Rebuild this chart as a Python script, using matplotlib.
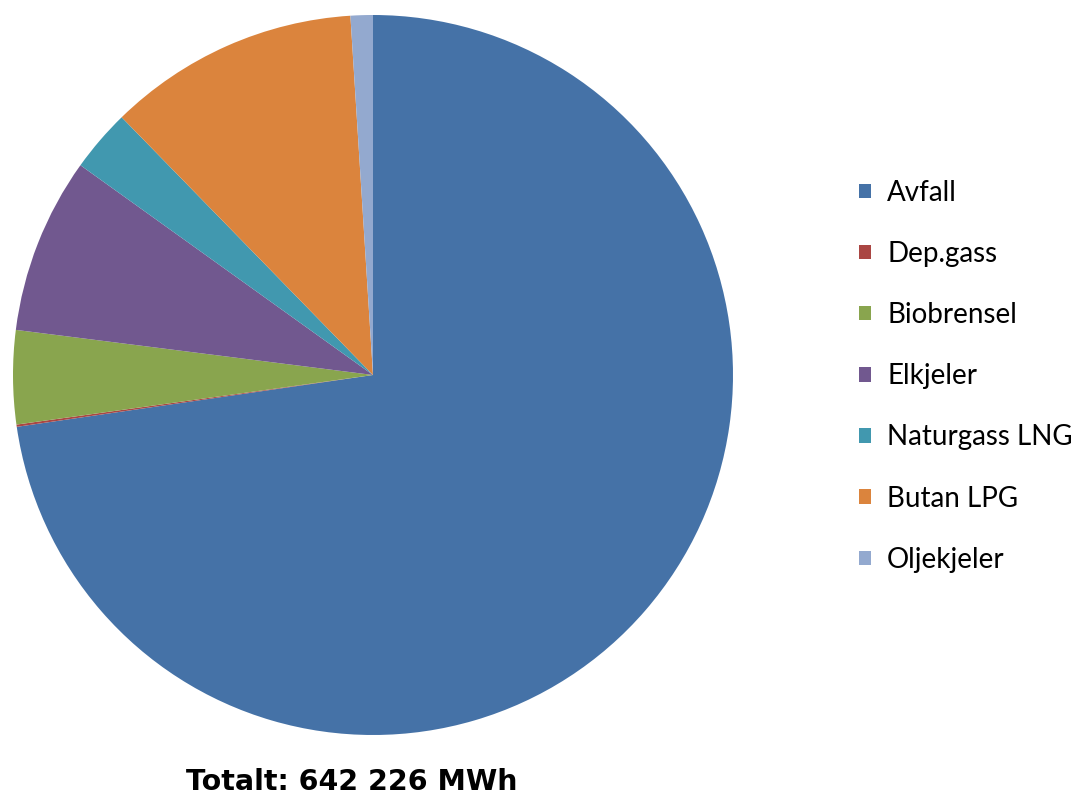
import matplotlib.pyplot as plt
from matplotlib.patches import Patch

# Energy mix for the district heating plant, share of total delivered heat (%)
sources = ["Avfall", "Dep.gass", "Biobrensel", "Elkjeler",
           "Naturgass LNG", "Butan LPG", "Oljekjeler"]
shares = [72.7, 0.1, 4.2, 7.9, 2.8, 11.3, 1.0]
colors = ["#4572A7", "#AA4643", "#89A54E", "#71588F",
          "#4198AF", "#DB843D", "#93A9CF"]
total_label = "Totalt: 642 226 MWh"

W, H = 1088, 798
fig = plt.figure(figsize=(W / 100, H / 100), dpi=100)

# pie placed in pixel units: centre (373, 375), radius 360
cx, cy, r = 373, 375, 360
ax = fig.add_axes([(cx - r) / W, (H - cy - r) / H, 2 * r / W, 2 * r / H])
wedges, _ = ax.pie(shares, colors=colors, startangle=90, counterclock=False,
                   radius=1.0, wedgeprops=dict(linewidth=0))
ax.set_xlim(-1, 1)
ax.set_ylim(-1, 1)
ax.set_aspect("equal")
ax.axis("off")

handles = [Patch(facecolor=c, edgecolor="none") for c in colors]
fig.legend(handles, sources, loc="upper left",
           bbox_to_anchor=(845 / W, 1 - 166 / H), frameon=False,
           prop=dict(family="Lato", size=20), handlelength=0.42,
           handleheight=0.42, handletextpad=0.6, labelspacing=1.265,
           borderpad=0)

fig.text(352 / W, 1 - 782 / H, total_label, ha="center", va="center",
         fontsize=20.5, fontweight="bold", family="DejaVu Sans")

fig.savefig("out.png", dpi=100)
